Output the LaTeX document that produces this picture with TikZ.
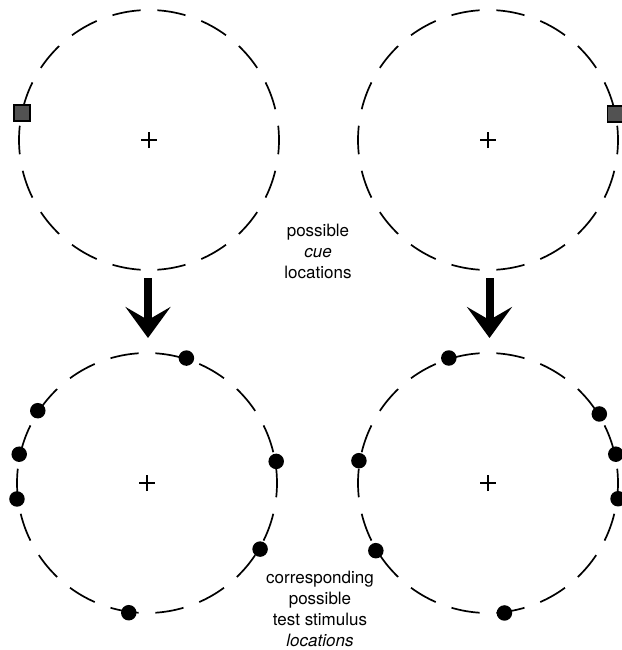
\documentclass[tikz,border=0pt]{standalone}
\usepackage{fontspec}
\setmainfont{TeX Gyre Heros}
\usetikzlibrary{arrows.meta}
\begin{document}
\begin{tikzpicture}[x=1pt,y=-1pt,
  dashcirc/.style={line width=1.7pt},
  crossmark/.style={line width=2.1pt},
  dotmark/.style={circle,fill=black,draw=none,inner sep=0pt,minimum size=15.5pt},
  cuebox/.style={rectangle,draw=black,line width=1.5pt,fill=black!68,inner sep=0pt,minimum size=16pt},
  bigarrow/.style={line width=8pt,-{Stealth[length=31pt,width=45pt,inset=13pt]}},
  lbltext/.style={font=\fontsize{17}{21}\selectfont,align=center,inner sep=0pt}]
\useasboundingbox (0,0) rectangle (621,650);
% circle centres
\coordinate (TL) at (149,140);
\coordinate (TR) at (488,140);
\coordinate (BL) at (147,483);
\coordinate (BR) at (488,483);
% dashed circles and fixation crosses
\foreach \c in {TL,TR,BL,BR}{
  \foreach \k in {0,...,17}{
    \draw[dashcirc] ([shift={({20*\k-6.3}:130)}]\c) arc[start angle={20*\k-6.3}, end angle={20*\k+6.3}, radius=130];
  }
  \draw[crossmark] ([xshift=-8pt]\c) -- ([xshift=8pt]\c);
  \draw[crossmark] ([yshift=-8pt]\c) -- ([yshift=8pt]\c);
}
% cue squares
\node[cuebox] (cueL) at ([shift={(-168:130)}]TL) {};
\node[cuebox] (cueR) at ([shift={(-11.5:130)}]TR) {};
% test stimulus dots (left)
\node[dotmark] (l1) at ([shift={(-72.5:131)}]BL) {};
\node[dotmark] (l2) at ([shift={(-146.5:131)}]BL) {};
\node[dotmark] (l3) at ([shift={(-167.3:131)}]BL) {};
\node[dotmark] (l4) at ([shift={(-187:131)}]BL) {};
\node[dotmark] (l5) at ([shift={(-9.5:131)}]BL) {};
\node[dotmark] (l6) at ([shift={(30.3:131)}]BL) {};
\node[dotmark] (l7) at ([shift={(98:131)}]BL) {};
% test stimulus dots (right)
\node[dotmark] (r1) at ([shift={(-107.4:131)}]BR) {};
\node[dotmark] (r2) at ([shift={(-31.8:131)}]BR) {};
\node[dotmark] (r3) at ([shift={(-12.7:131)}]BR) {};
\node[dotmark] (r4) at ([shift={(6.9:131)}]BR) {};
\node[dotmark] (r5) at ([shift={(-170.2:131)}]BR) {};
\node[dotmark] (r6) at ([shift={(148.9:131)}]BR) {};
\node[dotmark] (r7) at ([shift={(82.8:131)}]BR) {};
% arrows
\coordinate (aLs) at (148,278);
\coordinate (aLe) at (148,338);
\coordinate (aRs) at (489.5,278);
\coordinate (aRe) at (489.5,338);
\draw[bigarrow] (aLs) -- (aLe);
\draw[bigarrow] (aRs) -- (aRe);
% labels
\node[lbltext] (cuetext) at (318,251) {possible\\\textit{cue}\\locations};
\node[lbltext] (testtext) at (320,609) {corresponding\\possible\\test stimulus\\\textit{locations}};
\end{tikzpicture}
\end{document}
